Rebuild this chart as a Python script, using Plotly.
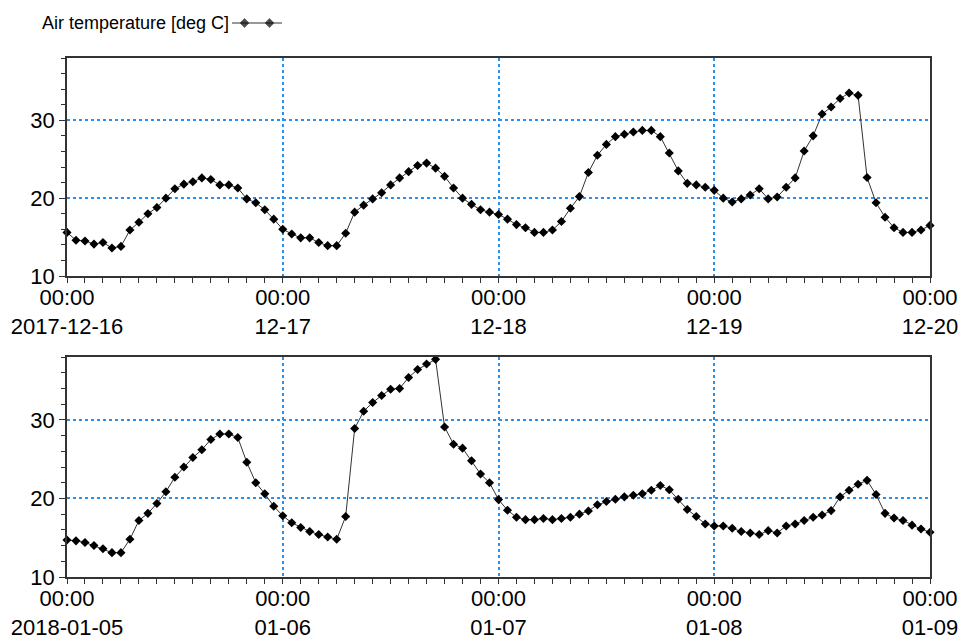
import pandas as pd
import plotly.graph_objects as go

series_name = "Air temperature [deg C]"

start_top = "2017-12-16 00:00"
start_bottom = "2018-01-05 00:00"

top_values = [15.6, 14.6, 14.5, 14.1, 14.3, 13.6, 13.8, 15.9, 16.9, 18.0, 18.8, 20.0, 21.2, 21.8, 22.1, 22.6,
              22.4, 21.7, 21.7, 21.3, 19.9, 19.4, 18.5, 17.3, 16.0, 15.4, 14.9, 14.9, 14.3, 13.9, 13.9, 15.5,
              18.2, 19.1, 19.9, 20.7, 21.7, 22.6, 23.4, 24.2, 24.5, 23.85, 22.8, 21.3, 20.0, 19.2, 18.5, 18.2,
              17.9, 17.3, 16.6, 16.2, 15.6, 15.6, 15.9, 17.0, 18.7, 20.2, 23.3, 25.5, 26.9, 27.9, 28.2, 28.5,
              28.7, 28.7, 27.9, 25.8, 23.5, 21.9, 21.7, 21.4, 21.0, 20.0, 19.5, 19.9, 20.4, 21.2, 19.9, 20.15,
              21.4, 22.6, 26.05, 28.0, 30.8, 31.7, 32.8, 33.5, 33.2, 22.65, 19.4, 17.55, 16.2, 15.6, 15.6, 15.9,
              16.5]

bottom_values = [14.7, 14.6, 14.4, 14.0, 13.6, 13.1, 13.1, 14.8, 17.2, 18.1, 19.35, 20.85, 22.7, 24.0, 25.2, 26.2,
                 27.5, 28.2, 28.2, 27.75, 24.6, 22.0, 20.6, 19.0, 17.8, 16.9, 16.3, 15.8, 15.4, 15.1, 14.8, 17.7,
                 28.9, 31.1, 32.2, 33.1, 33.9, 34.0, 35.4, 36.4, 37.1, 37.7, 29.1, 26.9, 26.4, 24.8, 23.1, 22.0,
                 19.85, 18.5, 17.6, 17.3, 17.3, 17.45, 17.3, 17.45, 17.6, 18.0, 18.4, 19.2, 19.6, 19.9, 20.2, 20.4,
                 20.6, 21.05, 21.65, 21.1, 19.9, 18.6, 17.7, 16.75, 16.5, 16.5, 16.2, 15.8, 15.6, 15.4, 15.9, 15.6,
                 16.5, 16.75, 17.2, 17.6, 17.9, 18.45, 20.2, 21.05, 21.8, 22.3, 20.5, 18.1, 17.5, 17.2, 16.6, 16.1,
                 15.7]

top_tick_dates = ["2017-12-16", "2017-12-17", "2017-12-18", "2017-12-19", "2017-12-20"]
top_tick_text = ["00:00<br>2017-12-16", "00:00<br>12-17", "00:00<br>12-18", "00:00<br>12-19", "00:00<br>12-20"]
bottom_tick_dates = ["2018-01-05", "2018-01-06", "2018-01-07", "2018-01-08", "2018-01-09"]
bottom_tick_text = ["00:00<br>2018-01-05", "00:00<br>01-06", "00:00<br>01-07", "00:00<br>01-08", "00:00<br>01-09"]

y_tick_vals = [10, 20, 30]

top_x = pd.date_range(start_top, periods=len(top_values), freq="h")
bottom_x = pd.date_range(start_bottom, periods=len(bottom_values), freq="h")

FONT = "Liberation Sans, Arial, sans-serif"
GRID = "#2b8ff0"
FRAME = "#333333"

fig = go.Figure()
line_style = dict(color="#333333", width=1)
marker_style = dict(symbol="diamond", size=7, color="black")

fig.add_trace(go.Scatter(x=top_x, y=top_values, mode="lines+markers", line=line_style,
                         marker=marker_style, xaxis="x", yaxis="y", showlegend=False, cliponaxis=False))
fig.add_trace(go.Scatter(x=bottom_x, y=bottom_values, mode="lines+markers", line=line_style,
                         marker=marker_style, xaxis="x2", yaxis="y2", showlegend=False, cliponaxis=False))

# legend sample (line with two diamonds)
fig.add_trace(go.Scatter(x=[0, 0.25, 0.75, 1], y=[0, 0, 0, 0], mode="lines+markers",
                         line=dict(color="#333333", width=1),
                         marker=dict(symbol="diamond", size=[0, 7, 7, 0], color="black"),
                         xaxis="x3", yaxis="y3", showlegend=False, hoverinfo="skip"))

W, H = 964, 641
xl, xr = 67 / W, 930 / W


def xaxis_style(tickvals, ticktext, start):
    return dict(
        type="date", domain=[xl, xr], automargin=False,
        range=[tickvals[0], tickvals[-1]],
        tickmode="array", tickvals=tickvals, ticktext=ticktext,
        ticks="outside", ticklen=5, tickwidth=1, tickcolor=FRAME,
        ticklabelstandoff=-4,
        minor=dict(ticks="outside", ticklen=5, tickcolor=FRAME, dtick=2 * 3600 * 1000, tick0=start,
                   showgrid=False),
        showgrid=True, gridcolor=GRID, griddash="dot", gridwidth=1.5,
        showline=True, linecolor=FRAME, linewidth=1.5, mirror=True,
        tickfont=dict(family=FONT, size=22, color="black"),
        zeroline=False, fixedrange=True,
    )


def yaxis_style(domain, anchor):
    return dict(
        domain=domain, anchor=anchor, range=[10, 38], automargin=False,
        tickmode="array", tickvals=y_tick_vals,
        ticks="outside", ticklen=6, tickwidth=1, tickcolor=FRAME,
        minor=dict(ticks="outside", ticklen=4, tickcolor=FRAME, dtick=2, tick0=10, showgrid=False),
        showgrid=True, gridcolor=GRID, griddash="dot", gridwidth=1.5,
        showline=True, linecolor=FRAME, linewidth=1.5, mirror=True,
        tickfont=dict(family=FONT, size=22, color="black"),
        zeroline=False, fixedrange=True,
    )


top_dom = [1 - 276 / H, 1 - 58 / H]
bot_dom = [1 - 577 / H, 1 - 357 / H]

fig.update_layout(
    width=W, height=H,
    margin=dict(l=0, r=0, t=0, b=0, pad=0),
    paper_bgcolor="white", plot_bgcolor="white",
    xaxis=dict(anchor="y", **xaxis_style(top_tick_dates, top_tick_text, start_top)),
    yaxis=yaxis_style(top_dom, "x"),
    xaxis2=dict(anchor="y2", **xaxis_style(bottom_tick_dates, bottom_tick_text, start_bottom)),
    yaxis2=yaxis_style(bot_dom, "x2"),
    xaxis3=dict(domain=[232 / W, 282 / W], range=[0, 1], visible=False, anchor="y3", fixedrange=True,
                automargin=False),
    yaxis3=dict(domain=[1 - 33 / H, 1 - 13 / H], range=[-1, 1], visible=False, anchor="x3", fixedrange=True,
                automargin=False),
    annotations=[dict(text=series_name, x=40 / W, y=1 - 23 / H, xref="paper", yref="paper",
                      xanchor="left", yanchor="middle", showarrow=False,
                      font=dict(family=FONT, size=18, color="black"))],
    showlegend=False,
)

fig.write_html("out.html")
